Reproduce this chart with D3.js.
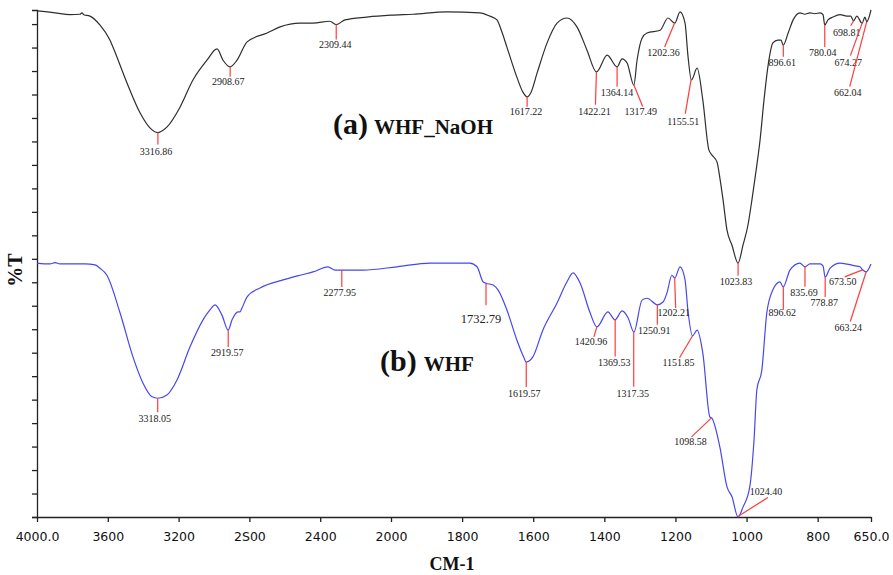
<!DOCTYPE html>
<html>
<head>
<meta charset="utf-8">
<script src="https://cdn.jsdelivr.net/npm/d3@7"></script>
<style>
  body { margin: 0; background: #fff; }
  svg { display: block; }
</style>
</head>
<body>
<svg id="chart" width="893" height="575"></svg>
<script>
// spectrum (a) WHF_NaOH : wavenumber (cm-1) and %T
const wnA = [4000, 3898, 3814, 3757, 3746, 3735, 3701, 3644, 3588, 3571, 3491, 3418, 3362, 3317, 3265, 3192, 3119, 3040, 2983, 2949, 2909, 2870, 2813, 2700, 2627, 2514, 2441, 2345, 2309, 2260, 2136, 2000,
  1938, 1843, 1750, 1722, 1702, 1688, 1674, 1646, 1629, 1617, 1606, 1589, 1561, 1533, 1505, 1477, 1449, 1422, 1392, 1364, 1350, 1336, 1317, 1308, 1294, 1280, 1243, 1221, 1202, 1187, 1173, 1165, 1155, 1139, 1123, 1106, 1097, 1083, 1075, 1066, 1055, 1041, 1024, 1010, 996, 985, 973, 962, 951, 940, 926, 912, 903, 897, 883, 869, 850, 836, 822, 808, 793, 785, 780, 771, 757, 737, 718, 707, 699, 690, 675, 667, 662, 650]
const tA = [107.8, 107.4, 107.0, 107.1, 107.4, 107.0, 106.7, 104.8, 101.6, 100.1, 92.4, 86.1, 82.9, 81.9, 83.1, 87.3, 93.1, 97.3, 99.7, 97.3, 95.9, 97.3, 101.2, 103.1, 104.4, 105.2, 105.2, 105.6, 104.9, 105.9, 106.5, 106.9,
  107.1, 107.6, 107.4, 106.7, 105.9, 103.3, 100.1, 93.7, 90.5, 89.5, 90.5, 94.6, 101.0, 105.2, 106.3, 104.4, 99.5, 94.8, 98.4, 95.9, 97.6, 96.7, 92.0, 97.3, 102.0, 103.1, 103.7, 106.3, 105.2, 107.6, 105.2, 98.4, 93.1, 95.6, 88.8, 78.2, 77.1, 75.6, 72.2, 67.5, 61.1, 57.9, 54.1, 57.9, 62.2, 67.5, 73.9, 80.3, 88.8, 95.9, 101.0, 101.6, 101.6, 100.5, 103.1, 105.9, 107.4, 107.1, 107.4, 107.2, 107.4, 107.0, 104.8, 105.9, 106.5, 107.0, 106.7, 106.7, 105.7, 106.7, 105.2, 106.5, 105.5, 108.0]

// spectrum (b) WHF
const wnB = [4000, 3927, 3898, 3870, 3729, 3672, 3644, 3605, 3531, 3458, 3401, 3350, 3318, 3266, 3209, 3136, 3062, 3023, 2994, 2955, 2920, 2898, 2864, 2853, 2842, 2813, 2740, 2610, 2514, 2441, 2356, 2316, 2278, 2158, 1983,
  1890, 1778, 1758, 1741, 1733, 1713, 1699, 1674, 1646, 1626, 1620, 1601, 1573, 1533, 1505, 1488, 1468, 1440, 1421, 1390, 1370, 1350, 1333, 1317, 1294, 1280, 1251, 1235, 1224, 1210, 1202, 1187, 1173, 1165, 1152, 1139, 1123, 1103, 1098, 1075, 1055, 1041, 1024, 1010, 991, 979, 971, 957, 943, 926, 906, 897, 878, 850, 836, 822, 793, 785, 779, 765, 737, 695, 681, 673, 664, 650]
const tB = [54.1, 53.9, 54.2, 53.9, 53.9, 53.7, 53.0, 51.5, 43.5, 34.1, 28.5, 25.6, 25.3, 26.0, 29.2, 36.2, 42.0, 44.1, 45.2, 43.0, 39.8, 42.0, 43.7, 43.7, 44.5, 46.9, 48.8, 50.5, 51.5, 52.2, 53.3, 52.6, 52.6, 52.6, 53.3,
  54.1, 54.1, 53.3, 50.1, 49.8, 49.4, 48.4, 44.1, 37.7, 33.9, 33.0, 34.1, 39.8, 45.6, 50.1, 52.0, 49.8, 43.5, 40.5, 43.7, 42.0, 43.9, 42.4, 39.4, 46.2, 46.6, 45.2, 45.8, 47.7, 51.5, 50.9, 53.3, 50.5, 44.1, 38.6, 39.8, 34.9, 21.3, 21.1, 14.9, 6.4, 4.3, 0.0, 2.1, 6.4, 16.4, 27.1, 31.3, 43.5, 48.4, 50.1, 49.0, 52.6, 54.1, 53.3, 53.9, 53.9, 53.5, 51.1, 53.0, 54.1, 53.5, 53.3, 52.6, 52.2, 53.9]

// marked peaks
const peaksA = [3316.86, 2908.67, 2309.44, 1617.22, 1422.21, 1364.14, 1317.49, 1202.36, 1155.51, 1023.83, 896.61, 780.04, 698.81, 674.27, 662.04]
const peaksB = [3318.05, 2919.57, 2277.95, 1732.79, 1619.57, 1420.96, 1369.53, 1317.35, 1250.91, 1202.21, 1151.85, 1098.58, 1024.40, 896.62, 835.69, 778.87, 673.50, 663.24]

// axis ticks
const xTicks = [4000, 3600, 3200, 2800, 2400, 2000, 1800, 1600, 1400, 1200, 1000, 800, 650]
const xTickLabels = ["4000.0", "3600", "3200", "2S00", "2400", "2000", "1800", "1600", "1400", "1200", "1000", "800", "650.0"]

// label placement: [line end dx, dy, text dx, dy] from the peak point
const offA = [[0,12,-2,22],[0,10,-2,18],[0,15,-1,23],[0,10,-1,18],[-1,33,-2,43],[0,20,0,29],[9,22,7,30],[-10,24,-11,33],[-6,35,-8,46],[0,13,-2,22],[0,12,-1,21],[0,22,-2,31],[-3,5,-7,15],[-12,33,-14,43],[-17,65,-19,74]]
const offB = [[0,14,-3,24],[0,17,-1,26],[0,17,-2,26],[0,22,-5,40],[0,25,-2,35],[-3,10,-6,18],[0,37,-1,46],[0,55,-1,65],[0,20,-3,29],[1,30,-1,38],[-13,22,-14,30],[-20,19,-21,27],[30,-19,28,-22],[0,23,-1,29],[0,20,-1,29],[0,20,-1,29],[-18,7,-20,15],[-16,50,-18,59]]

const svg = d3.select("#chart")

// wavenumber axis changes scale at 2000
const x = d3.scaleLinear().domain([4000, 2000, 650]).range([37, 391, 871])
const y = d3.scaleLinear().domain([0, 108]).range([517, 10])

svg.append("g")
    .attr("transform", "translate(0,517)")
    .call(d3.axisBottom(x).tickValues(xTicks).tickFormat((d, i) => xTickLabels[i]).tickSize(5).tickSizeOuter(0).tickPadding(10))
    .call(g => g.selectAll("text").attr("font-family", "DejaVu Sans").attr("font-size", 12.5).attr("fill", "#111"))
    .call(g => g.selectAll("path,line").attr("stroke", "#222").attr("stroke-width", 1.3))

svg.append("g")
    .attr("transform", "translate(37,0)")
    .call(d3.axisLeft(y).tickValues(d3.range(0, 106, 5)).tickFormat("").tickSize(5).tickSizeOuter(5))
    .call(g => g.selectAll("path,line").attr("stroke", "#222").attr("stroke-width", 1.3))

const line = d3.line()
    .x(d => x(d[0]))
    .y(d => y(d[1]))
    .curve(d3.curveMonotoneX)

function valueAt(wns, ts, w) {
  for (let i = 0; i < wns.length - 1; i++) {
    if (wns[i] >= w && w >= wns[i + 1]) {
      const f = (wns[i] - w) / (wns[i] - wns[i + 1])
      return ts[i] + f * (ts[i + 1] - ts[i])
    }
  }
  return ts[ts.length - 1]
}

function drawSpectrum(wns, ts, color, peaks, offs) {
  svg.append("path")
      .datum(wns.map((w, i) => [w, ts[i]]))
      .attr("fill", "none")
      .attr("stroke", color)
      .attr("stroke-width", 1.2)
      .attr("d", line)

  const g = svg.append("g")
  peaks.forEach((p, i) => {
    const px = x(p), py = y(valueAt(wns, ts, p))
    const o = offs[i]
    g.append("line")
        .attr("x1", px).attr("y1", py)
        .attr("x2", px + o[0]).attr("y2", py + o[1])
        .attr("stroke", "#ff3c3c")
        .attr("stroke-width", 1.2)
    g.append("text")
        .attr("x", px + o[2]).attr("y", py + o[3])
        .attr("text-anchor", "middle")
        .attr("font-family", "Liberation Serif")
        .attr("font-size", p === 1732.79 ? 12.5 : 10)
        .attr("fill", "#222")
        .text(p.toFixed(2))
  })
}

drawSpectrum(wnA, tA, "#2e2e2e", peaksA, offA)
drawSpectrum(wnB, tB, "#4646f2", peaksB, offB)

// sample names
const nameA = svg.append("text").attr("x", 333).attr("y", 134)
    .attr("font-family", "Liberation Serif").attr("font-weight", "bold").attr("fill", "#111")
nameA.append("tspan").attr("font-size", 30).text("(a)")
nameA.append("tspan").attr("font-size", 21).attr("dx", 6).text("WHF_NaOH")

const nameB = svg.append("text").attr("x", 380).attr("y", 371)
    .attr("font-family", "Liberation Serif").attr("font-weight", "bold").attr("fill", "#111")
nameB.append("tspan").attr("font-size", 30).text("(b)")
nameB.append("tspan").attr("font-size", 21).attr("dx", 7).text("WHF")

// axis titles
svg.append("text")
    .attr("transform", "translate(22,270) rotate(-90)")
    .attr("text-anchor", "middle")
    .attr("font-family", "Liberation Serif")
    .attr("font-weight", "bold")
    .attr("font-size", 20)
    .attr("fill", "#111")
    .text("%T")

svg.append("text")
    .attr("x", 452).attr("y", 570)
    .attr("text-anchor", "middle")
    .attr("font-family", "Liberation Serif")
    .attr("font-weight", "bold")
    .attr("font-size", 18)
    .attr("fill", "#111")
    .text("CM-1")
</script>
</body>
</html>
